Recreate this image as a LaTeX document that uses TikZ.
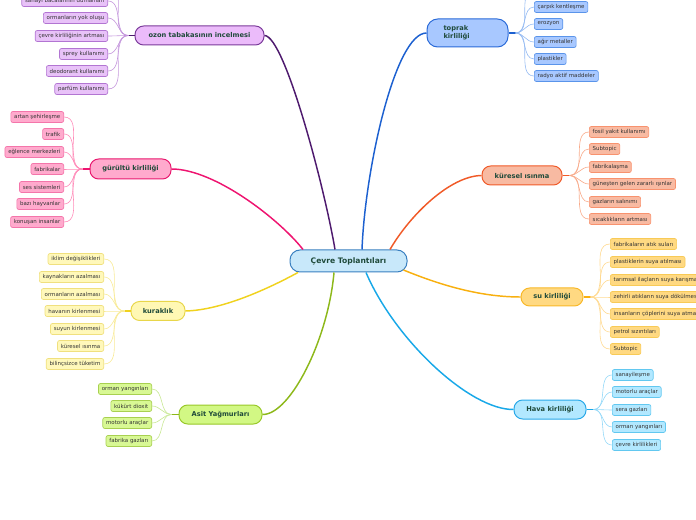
\documentclass[tikz,border=0pt]{standalone}
\usepackage{fontspec}
\setmainfont{DejaVu Sans}
\usetikzlibrary{calc}
\definecolor{maintext}{HTML}{1F4A3A}
\definecolor{leaftext}{HTML}{333333}
% ozon
\definecolor{ozF}{HTML}{EBBBFA}\definecolor{ozD}{HTML}{7A3A9A}\definecolor{ozC}{HTML}{4E1A6E}
\definecolor{ozLF}{HTML}{E8C2F8}\definecolor{ozLD}{HTML}{B275D2}\definecolor{ozLC}{HTML}{C496DC}
% gurultu
\definecolor{guF}{HTML}{FFAACD}\definecolor{guD}{HTML}{E8186E}\definecolor{guC}{HTML}{EE1470}
\definecolor{guLF}{HTML}{FFAACD}\definecolor{guLD}{HTML}{F475AA}\definecolor{guLC}{HTML}{FF8AB8}
% kuraklik
\definecolor{kuF}{HTML}{FFF8B4}\definecolor{kuD}{HTML}{E8D64A}\definecolor{kuC}{HTML}{F0D21E}
\definecolor{kuLF}{HTML}{FFF8BA}\definecolor{kuLD}{HTML}{F0E07E}\definecolor{kuLC}{HTML}{F8EA96}
% asit
\definecolor{asF}{HTML}{D2F884}\definecolor{asD}{HTML}{98C828}\definecolor{asC}{HTML}{8DB81A}
\definecolor{asLF}{HTML}{D8F894}\definecolor{asLD}{HTML}{A8D050}\definecolor{asLC}{HTML}{C8E894}
% toprak
\definecolor{toF}{HTML}{A8C8FF}\definecolor{toD}{HTML}{2A6AD8}\definecolor{toC}{HTML}{1C60D0}
\definecolor{toLF}{HTML}{A8C8FF}\definecolor{toLD}{HTML}{5A94EA}\definecolor{toLC}{HTML}{94BAF2}
% kuresel
\definecolor{krF}{HTML}{F8BAA2}\definecolor{krD}{HTML}{F05A28}\definecolor{krC}{HTML}{F05A28}
\definecolor{krLF}{HTML}{F8BAA2}\definecolor{krLD}{HTML}{F8926E}\definecolor{krLC}{HTML}{F8AA8A}
% su
\definecolor{suF}{HTML}{FFD982}\definecolor{suD}{HTML}{F8B828}\definecolor{suC}{HTML}{F8B010}
\definecolor{suLF}{HTML}{FFD982}\definecolor{suLD}{HTML}{F8CA56}\definecolor{suLC}{HTML}{FFDA92}
% hava
\definecolor{haF}{HTML}{B2E8FF}\definecolor{haD}{HTML}{28A8E8}\definecolor{haC}{HTML}{18A8E8}
\definecolor{haLF}{HTML}{B2E8FF}\definecolor{haLD}{HTML}{62C8F0}\definecolor{haLC}{HTML}{94D8F8}
% center
\definecolor{ceF}{HTML}{C8E8FA}\definecolor{ceD}{HTML}{3A80C0}
\begin{document}
\begin{tikzpicture}[x=0.75pt,y=-0.75pt,
  mainnode/.style={draw, line width=0.75pt, rounded corners=6.5pt, text=maintext,
    font=\bfseries\fontsize{5.0}{6}\selectfont, minimum height=14.25pt, inner sep=0pt},
  leafnode/.style={draw, line width=0.5pt, rounded corners=1.5pt, text=leaftext,
    font=\fontsize{4.1}{4.7}\selectfont, minimum height=8.25pt, inner xsep=2.5pt, inner ysep=0pt},
  mainline/.style={line width=1.1pt},
  leafline/.style={line width=0.45pt},
]
\useasboundingbox (0,0) rectangle (696,520);

% centre
\node[mainnode, fill=ceF, draw=ceD, font=\bfseries\fontsize{5.7}{7}\selectfont,
  minimum width=87.75pt, minimum height=16.5pt, rounded corners=7.5pt] (c) at (348.5,261) {Çevre Toplantıları};

% branch nodes
\node[mainnode, fill=ozF, draw=ozD, minimum width=96.75pt] (oz) at (199.5,35.5) {ozon tabakasının incelmesi};
\node[mainnode, fill=guF, draw=guD, minimum width=60.75pt, minimum height=15pt] (gu) at (130.5,169) {gürültü kirliliği};
\node[mainnode, fill=kuF, draw=kuD, minimum width=40.5pt] (ku) at (158,311) {kuraklık};
\node[mainnode, fill=asF, draw=asD, minimum width=62.25pt] (as) at (220.5,414.5) {Asit Yağmurları};
\node[mainnode, fill=toF, draw=toD, minimum width=60.75pt, minimum height=21pt, rounded corners=8pt,
  align=left, text width=36pt] (to) at (467.5,33) {toprak\\kirliliği};
\node[mainnode, fill=krF, draw=krD, minimum width=60pt] (kr) at (522,175.5) {küresel ısınma};
\node[mainnode, fill=suF, draw=suD, minimum width=46.5pt, minimum height=13.5pt] (su) at (552,297) {su kirliliği};
\node[mainnode, fill=haF, draw=haD, minimum width=54pt] (ha) at (550,409.5) {Hava kirliliği};

% main connectors
\coordinate (sOz) at ($(c.north)+(-13.5,0)$);
\coordinate (sGu) at ($(c.north)+(-45.5,0)$);
\coordinate (sTo) at ($(c.north)+(13.5,0)$);
\coordinate (sKr) at ($(c.north)+(41.5,0)$);
\coordinate (sKu) at ($(c.south)+(-50.5,0)$);
\coordinate (sAs) at ($(c.south)+(-14.5,0)$);
\coordinate (sHa) at ($(c.south)+(17.5,0)$);
\coordinate (sSu) at ($(c.east)+(-4,9)$);
\draw[mainline, ozC] (sOz) .. controls (325,190) and (285,36) .. (oz.east);
\draw[mainline, guC] (sGu) .. controls (280,220) and (215,169) .. (gu.east);
\draw[mainline, toC] (sTo) .. controls (365,170) and (395,33) .. (to.west);
\draw[mainline, krC] (sKr) .. controls (410,215) and (450,176) .. (kr.west);
\draw[mainline, kuC] (sKu) .. controls (275,285) and (225,310) .. (ku.east);
\draw[mainline, asC] (sAs) .. controls (328,340) and (290,415) .. (as.east);
\draw[mainline, haC] (sHa) .. controls (395,340) and (470,410) .. (ha.west);
\draw[mainline, suC] (sSu) .. controls (440,285) and (480,297) .. (su.west);

% hubs
\coordinate (hOz) at ($(oz.west)+(-6,0)$);
\coordinate (hGu) at ($(gu.west)+(-7,0)$);
\coordinate (hKu) at ($(ku.west)+(-6,0)$);
\coordinate (hAs) at ($(as.west)+(-7,0)$);
\coordinate (hTo) at ($(to.east)+(7,0)$);
\coordinate (hKr) at ($(kr.east)+(7,0)$);
\coordinate (hSu) at ($(su.east)+(7,0)$);
\coordinate (hHa) at ($(ha.east)+(7,0)$);
\draw[leafline, ozC, line width=0.9pt] (hOz) -- (oz.west);
\draw[leafline, guC, line width=0.9pt] (hGu) -- (gu.west);
\draw[leafline, kuC, line width=0.9pt] (hKu) -- (ku.west);
\draw[leafline, asC, line width=0.9pt] (hAs) -- (as.west);
\draw[leafline, toC, line width=0.9pt] (hTo) -- (to.east);
\draw[leafline, krC, line width=0.9pt] (hKr) -- (kr.east);
\draw[leafline, suC, line width=0.9pt] (hSu) -- (su.east);
\draw[leafline, haC, line width=0.9pt] (hHa) -- (ha.east);

% off-page leaf ends
\coordinate (ozOff) at (108,-16);
\coordinate (toOff) at (534,-10);
\draw[leafline, ozLC] (ozOff) to[out=0,in=180] (hOz);
\draw[leafline, toLC] (hTo) to[out=0,in=180] (toOff);

% ozon leaves
\foreach \y/\t [count=\i] in {1/sanayi bacalarının dumanları, 18/ormanların yok oluşu,
  36/çevre kirliliğinin artması, 54/sprey kullanımı, 71/deodorant kullanımı, 89/parfüm kullanımı} {
  \draw[leafline, ozLC] (108,\y) to[out=0,in=180] (hOz);
  \node[leafnode, fill=ozLF, draw=ozLD, anchor=east] (ozl\i) at (108,\y) {\t};
}
% gurultu leaves
\foreach \y/\t [count=\i] in {117/artan şehirleşme, 134/trafik, 152/eğlence merkezleri, 169/fabrikalar,
  187/ses sistemleri, 204/bazı hayvanlar, 222/konuşan insanlar} {
  \draw[leafline, guLC] (64,\y) to[out=0,in=180] (hGu);
  \node[leafnode, fill=guLF, draw=guLD, anchor=east] (gul\i) at (64,\y) {\t};
}
% kuraklik leaves
\foreach \y/\t [count=\i] in {259/iklim değişiklikleri, 277/kaynakların azalması, 294/ormanların azalması,
  311/havanın kirlenmesi, 329/suyun kirlenmesi, 346/küresel ısınma, 364/bilinçsizce tüketim} {
  \draw[leafline, kuLC] (104,\y) to[out=0,in=180] (hKu);
  \node[leafnode, fill=kuLF, draw=kuLD, anchor=east] (kul\i) at (104,\y) {\t};
}
% asit leaves
\foreach \y/\t [count=\i] in {389/orman yangınları, 406/kükürt dioxit, 423/motorlu araçlar, 441/fabrika gazları} {
  \draw[leafline, asLC] (152,\y) to[out=0,in=180] (hAs);
  \node[leafnode, fill=asLF, draw=asLD, anchor=east] (asl\i) at (152,\y) {\t};
}
% toprak leaves
\foreach \y/\t [count=\i] in {7/çarpık kentleşme, 24/erozyon, 42/ağır metaller, 59/plastikler, 76/radyo aktif maddeler} {
  \draw[leafline, toLC] (hTo) to[out=0,in=180] (534,\y);
  \node[leafnode, fill=toLF, draw=toLD, anchor=west] (tol\i) at (534,\y) {\t};
}
% kuresel leaves
\foreach \y/\t [count=\i] in {132/fosil yakıt kullanımı, 149/Subtopic, 167/fabrikalaşma,
  184/güneşten gelen zararlı ışınlar, 202/gazların salınımı, 219/sıcaklıkların artması} {
  \draw[leafline, krLC] (hKr) to[out=0,in=180] (589,\y);
  \node[leafnode, fill=krLF, draw=krLD, anchor=west] (krl\i) at (589,\y) {\t};
}
% su leaves
\foreach \y/\t [count=\i] in {244/fabrikaların atık suları, 262/plastiklerin suya atılması,
  280/tarımsal ilaçların suya karışması, 297/zehirli atıkların suya dökülmesi,
  314/insanların çöplerini suya atması, 332/petrol sızıntıları, 349/Subtopic} {
  \draw[leafline, suLC] (hSu) to[out=0,in=180] (610,\y);
  \node[leafnode, fill=suLF, draw=suLD, anchor=west] (sul\i) at (610,\y) {\t};
}
% hava leaves
\foreach \y/\t [count=\i] in {375/sanayileşme, 392/motorlu araçlar, 410/sera gazları,
  427/orman yangınları, 445/çevre kirlilikleri} {
  \draw[leafline, haLC] (hHa) to[out=0,in=180] (612,\y);
  \node[leafnode, fill=haLF, draw=haLD, anchor=west] (hal\i) at (612,\y) {\t};
}
\end{tikzpicture}
\end{document}
